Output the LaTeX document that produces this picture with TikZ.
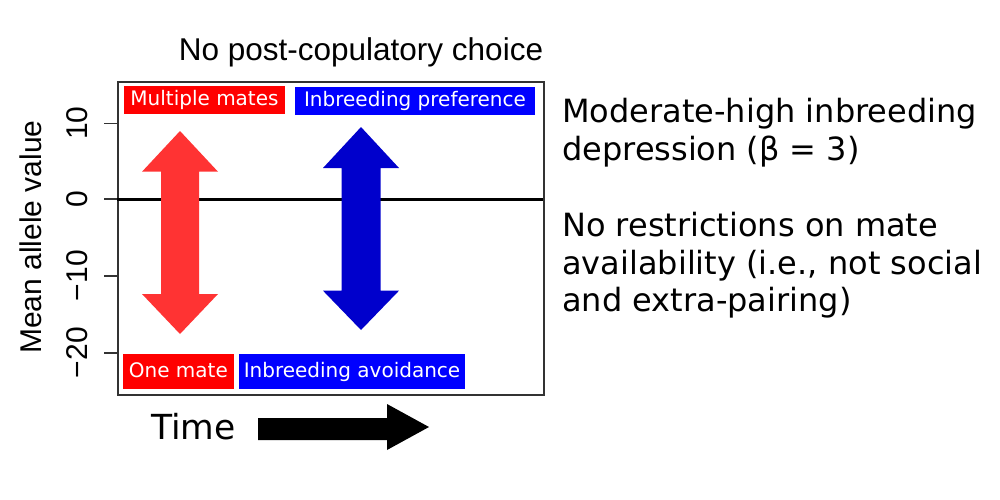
\documentclass[tikz,border=0pt]{standalone}
\usepackage{fontspec}
\setmainfont{DejaVu Sans}
\newfontfamily\arialfont{Liberation Sans}
\definecolor{arrowred}{HTML}{FF3333}
\definecolor{arrowblue}{HTML}{0000CC}
\definecolor{labred}{HTML}{FF0000}
\definecolor{labblue}{HTML}{0000FF}
\definecolor{frame}{HTML}{333333}
\begin{document}
\begin{tikzpicture}[x=1pt,y=-1pt,
  labelbox/.style={inner sep=0pt, text=white, font=\fontsize{20}{24}\selectfont,
    text height=15pt, text depth=3.4pt, anchor=center},
  rtext/.style={anchor=base west, align=left, font=\fontsize{32}{37.5}\selectfont},
  ticklab/.style={rotate=90, anchor=base, font=\arialfont\fontsize{30}{36}\selectfont},
  tickline/.style={line width=1.6pt, frame},
]
\useasboundingbox (0,0) rectangle (1000,500);
% title
\node[anchor=base, font=\arialfont\fontsize{31.5}{36}\selectfont] (title) at (361,61) {No post-copulatory choice};
% plot frame
\node[draw=frame, line width=1.8pt, minimum width=426pt, minimum height=313pt, inner sep=0pt, anchor=north west] (plot) at (117,81) {};
% zero line
\draw[line width=3pt, black] (117,199) -- (543,199);
% ticks
\foreach \yy in {123.3,199,275.7,352.7} \draw[tickline] (104,\yy) -- (117,\yy);
\node[ticklab] (t10) at (87,123.3) {10};
\node[ticklab] (t0) at (87,199) {0};
\node[ticklab] (tm10) at (87,275.7) {−10};
\node[ticklab] (tm20) at (87,352.7) {−20};
\node[rotate=90, anchor=base, font=\arialfont\fontsize{30}{36}\selectfont] (ylab) at (41.7,237) {Mean allele value};
% red double arrow
\fill[arrowred] (180,131) -- (218,171.7) -- (199,171.7) -- (199,294) -- (218,294) -- (180,334)
  -- (142,294) -- (161,294) -- (161,171.7) -- (142,171.7) -- cycle;
% blue double arrow
\fill[arrowblue] (361,127) -- (399,168) -- (380.5,168) -- (380.5,290.7) -- (399,290.7) -- (361,330)
  -- (323,290.7) -- (341.5,290.7) -- (341.5,168) -- (323,168) -- cycle;
% labels
\node[labelbox, fill=labred, minimum width=161pt, minimum height=28pt] (multi) at (204.5,100) {Multiple mates};
\node[labelbox, fill=labblue, minimum width=240pt, minimum height=28pt] (pref) at (415,100.7) {Inbreeding preference};
\node[labelbox, fill=labred, minimum width=111.3pt, minimum height=34.7pt] (one) at (178.4,371.3) {One mate};
\node[labelbox, fill=labblue, minimum width=226pt, minimum height=34.7pt] (avoid) at (352,371.3) {Inbreeding avoidance};
% time
\node[anchor=base west, inner sep=0pt, font=\fontsize{34.5}{40}\selectfont] (time) at (151,439) {Time};
\fill[black] (258,418) -- (387,418) -- (387,404) -- (429,427) -- (387,450) -- (387,440) -- (258,440) -- cycle;
% right text (base anchor = last line's baseline)
\node[rtext, inner sep=0pt] (beta) at (562,160.2) {Moderate-high inbreeding\\depression (β = 3)};
\node[rtext, inner sep=0pt] (restr) at (562,311.7) {No restrictions on mate\\availability (i.e., not social\\and extra-pairing)};
\end{tikzpicture}
\end{document}
